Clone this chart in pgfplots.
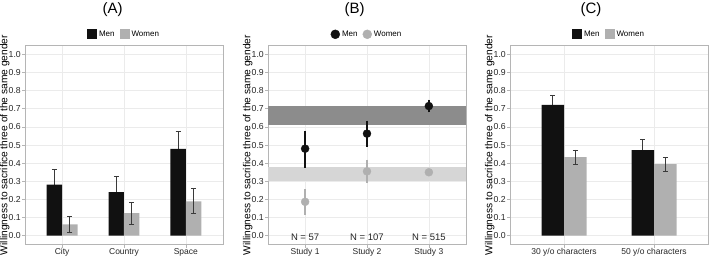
\documentclass[border=0pt]{standalone}
\usepackage{pgfplots}
\pgfplotsset{compat=1.18}
\usepackage{fontspec}
\setmainfont{Liberation Sans}
\definecolor{menc}{HTML}{111111}
\definecolor{womc}{HTML}{B0B0B0}
\definecolor{errc}{HTML}{3A3A3A}
\definecolor{gridc}{HTML}{EBEBEB}
\definecolor{boxc}{HTML}{B5B5B5}
\definecolor{darkband}{HTML}{8C8C8C}
\definecolor{lightband}{HTML}{D6D6D6}
\pgfplotsset{
  panel/.style={
    scale only axis, width=198pt, height=199.5pt, anchor=south west,
    ymin=-0.05, ymax=1.05,
    ytick={0,0.1,0.2,0.3,0.4,0.5,0.6,0.7,0.8,0.9,1.0},
    yticklabel style={/pgf/number format/.cd, fixed, fixed zerofill, precision=1, /tikz/.cd, font=\fontsize{8.7}{9}\selectfont, text=black!85, inner sep=1pt},
    /pgf/number format/assume math mode=true,
    xticklabel style={font=\fontsize{8.5}{9}\selectfont, text=black!85, inner sep=0.5pt},
    tick align=outside, major tick length=3pt,
    tick style={color=boxc, line width=0.6pt},
    xtick pos=bottom, ytick pos=left,
    axis line style={color=boxc, line width=0.7pt},
    grid=major, grid style={color=gridc, line width=0.6pt},
    ylabel={Willingness to sacrifice three of the same gender},
    ylabel style={font=\fontsize{10.2}{11}\selectfont, inner sep=0pt, yshift=-2pt},
    legend style={draw=none, fill=none, at={(0.5,1)}, anchor=center, yshift=11pt,
      font=\fontsize{8}{9}\selectfont, inner sep=0pt, legend columns=2,
      /tikz/every even column/.append style={column sep=3pt}},
    legend cell align=left,
  },
  barleg/.style={legend image code/.code={\fill[##1] (0pt,-5pt) rectangle (10pt,5pt);}},
  dotleg/.style={legend image code/.code={\fill[##1] (4pt,0pt) circle (4.5pt);}},
  errsty/.style={error bars/.cd, y dir=both, y explicit,
      error bar style={draw=errc, color=errc, line width=0.8pt},
      error mark options={rotate=90, mark size=2.5pt, draw=errc, color=errc, line width=0.8pt}},
}
\begin{document}
\begin{tikzpicture}
\useasboundingbox (0pt,0pt) rectangle (709pt,260pt);
% ---------------- (A)
\begin{axis}[panel, at={(25pt,15.2pt)}, xmin=0.4, xmax=3.6,
  xtick={1,2,3}, xticklabels={City,Country,Space}, barleg]
\addplot[no markers, draw=none, forget plot, errsty]
  coordinates {(0.875,0.282) +- (0,0.086) (1.875,0.240) +- (0,0.086) (2.875,0.479) +- (0,0.099)};
\addplot[fill=menc, draw=none, ybar, bar width=0.25, bar shift=0pt]
  coordinates {(0.875,0.282) (1.875,0.240) (2.875,0.479)};
\addlegendentry{Men}
\addplot[fill=womc, draw=none, ybar, bar width=0.25, bar shift=0pt, errsty]
  coordinates {(1.125,0.063) +- (0,0.044) (2.125,0.124) +- (0,0.061) (3.125,0.190) +- (0,0.069)};
\addlegendentry{Women}
\end{axis}
% ---------------- (B)
\begin{axis}[panel, at={(268pt,15.2pt)}, xmin=0.4, xmax=3.6,
  xtick={1,2,3}, xticklabels={Study 1,Study 2,Study 3}, dotleg]
\addplot[fill=darkband, draw=none, forget plot] coordinates {(0.4,0.61) (3.6,0.61) (3.6,0.713) (0.4,0.713)} -- cycle;
\addplot[fill=lightband, draw=none, forget plot] coordinates {(0.4,0.30) (3.6,0.30) (3.6,0.378) (0.4,0.378)} -- cycle;
\addplot[only marks, mark=*, mark size=4pt, color=menc, fill=menc,
  error bars/.cd, y dir=both, y explicit, error bar style={color=menc, line width=2.6pt}, error mark=none]
  coordinates {(1,0.48) += (0,0.10) -= (0,0.105) (2,0.563) += (0,0.072) -= (0,0.073) (3,0.715) += (0,0.035) -= (0,0.035)};
\addlegendentry{Men}
\addplot[only marks, mark=*, mark size=4pt, color=womc, fill=womc,
  error bars/.cd, y dir=both, y explicit, error bar style={color=womc, line width=2.6pt}, error mark=none]
  coordinates {(1,0.187) +- (0,0.071) (2,0.355) +- (0,0.065) (3,0.35) +- (0,0.02)};
\addlegendentry{Women}
\node[font=\fontsize{9.5}{10}\selectfont, text=black!85] at (axis cs:1,-0.01) {N = 57};
\node[font=\fontsize{9.5}{10}\selectfont, text=black!85] at (axis cs:2,-0.01) {N = 107};
\node[font=\fontsize{9.5}{10}\selectfont, text=black!85] at (axis cs:3,-0.01) {N = 515};
\end{axis}
% ---------------- (C)
\begin{axis}[panel, at={(510pt,15.2pt)}, xmin=0.4, xmax=2.6,
  xtick={1,2}, xticklabels={30 y/o characters,50 y/o characters}, barleg]
\addplot[no markers, draw=none, forget plot, errsty]
  coordinates {(0.875,0.722) +- (0,0.052) (1.875,0.472) +- (0,0.059)};
\addplot[fill=menc, draw=none, ybar, bar width=0.25, bar shift=0pt]
  coordinates {(0.875,0.722) (1.875,0.472)};
\addlegendentry{Men}
\addplot[fill=womc, draw=none, ybar, bar width=0.25, bar shift=0pt, errsty]
  coordinates {(1.125,0.434) +- (0,0.039) (2.125,0.395) +- (0,0.038)};
\addlegendentry{Women}
\end{axis}
% titles
\node[font=\fontsize{15}{16}\selectfont] at (112.7pt,250.3pt) {(A)};
\node[font=\fontsize{15}{16}\selectfont] at (354.5pt,250.3pt) {(B)};
\node[font=\fontsize{15}{16}\selectfont] at (591pt,250.3pt) {(C)};
\end{tikzpicture}
\end{document}
